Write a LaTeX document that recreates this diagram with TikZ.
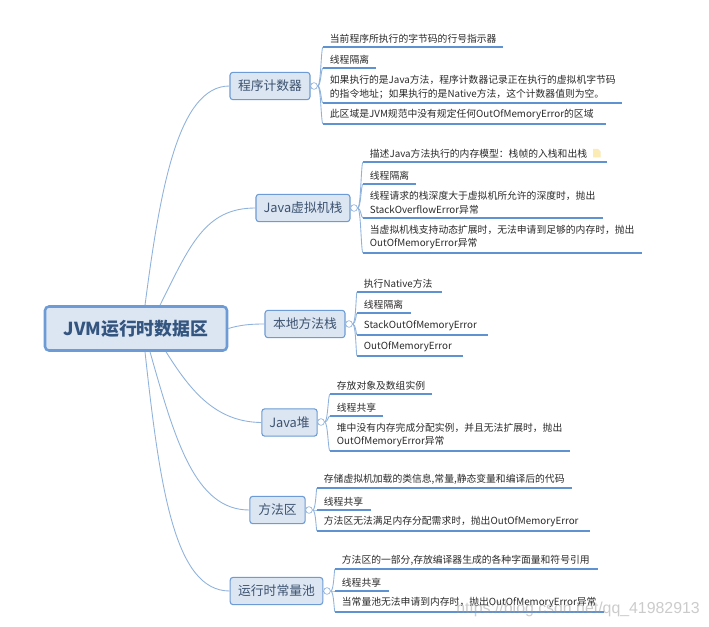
\documentclass[tikz,border=0pt]{standalone}
\usepackage{fontspec}
\setmainfont{Noto Sans CJK SC}
\newfontfamily\wmfont{Liberation Sans}
\definecolor{boxfill}{HTML}{DCE6F2}
\definecolor{boxline}{HTML}{6C9BD5}
\definecolor{underl}{HTML}{5F92D0}
\definecolor{curve}{HTML}{8FB2DC}
\definecolor{branchtxt}{HTML}{3C5270}
\definecolor{roottxt}{HTML}{34557F}
\definecolor{leaftxt}{HTML}{2A2A2A}
\definecolor{notefill}{HTML}{FBEBB5}
\tikzset{
  rootbox/.style={draw=boxline,fill=boxfill,line width=1.9pt,rounded corners=3pt,text=roottxt,font=\fontsize{13.4pt}{16pt}\selectfont\bfseries,inner sep=0pt,minimum width=136.5pt,minimum height=33pt},
  branchbox/.style={draw=boxline,fill=boxfill,line width=0.8pt,rounded corners=2.2pt,text=branchtxt,font=\fontsize{9.6pt}{12pt}\selectfont,inner sep=0pt,minimum height=20.5pt},
  bubble/.style={circle,draw=curve,fill=white,line width=0.5pt,minimum size=5pt,inner sep=0pt},
  leaf/.style={anchor=south west,align=left,text=leaftxt,font=\fontsize{7.35pt}{10pt}\selectfont,inner xsep=5pt,inner ysep=2.9pt},
  rootlink/.style={draw=curve,line width=0.65pt},
  leaflink/.style={draw=curve,line width=0.65pt},
  underline/.style={draw=underl,line width=0.95pt}
}
% name, bubble, x start, x end, y of underline, text
\newcommand{\leaf}[6]{%
  \node[leaf] (#1) at (#3,#5) {#6};
  \draw[leaflink] (#2.east) .. controls ([xshift=2.5pt]#2.east) and ([xshift=2.5pt]#2.east |- #1.south west) .. (#1.south west);
  \draw[underline] (#1.south west) -- (#4,#5);
}
\begin{document}
\begin{tikzpicture}[x=0.75pt,y=-0.75pt]
\useasboundingbox[fill=white] (0,0) rectangle (709,627);
% main boxes
\node[rootbox] (root) at (136,328.5) {JVM运行时数据区};
\node[branchbox,minimum width=60pt] (b1) at (270,86) {程序计数器};
\node[branchbox,minimum width=70.5pt] (b2) at (303,208) {Java虚拟机栈};
\node[branchbox,minimum width=60pt] (b3) at (305,324) {本地方法栈};
\node[branchbox,minimum width=41.5pt] (b4) at (289.5,422.5) {Java堆};
\node[branchbox,minimum width=41.5pt] (b5) at (277.5,510) {方法区};
\node[branchbox,minimum width=69.5pt] (b6) at (276.5,591) {运行时常量池};
% root connectors
\draw[rootlink] ([xshift=6.75pt]root.north) .. controls (160,190) and (178,86) .. (b1.west);
\draw[rootlink] ([xshift=18pt]root.north) .. controls (190,245) and (205,208) .. (b2.west);
\draw[rootlink] (root.east) .. controls (240,325) and (250,324) .. (b3.west);
\draw[rootlink] ([xshift=22.5pt]root.south) .. controls (190,390) and (215,422) .. (b4.west);
\draw[rootlink] ([xshift=10.5pt]root.south) .. controls (175,440) and (195,510) .. (b5.west);
\draw[rootlink] ([xshift=6.75pt]root.south) .. controls (160,490) and (175,591) .. (b6.west);
% bubbles
\node[bubble] (d1) at (314,86) {};
\node[bubble] (d2) at (354,208) {};
\node[bubble] (d3) at (349,324) {};
\node[bubble] (d4) at (321,422) {};
\node[bubble] (d5) at (309,510) {};
\node[bubble] (d6) at (327,591) {};
\foreach \i in {1,...,6}{\draw[leaflink] (b\i.east) -- (d\i.west);}
% leaves
\leaf{a1}{d1}{323}{503}{47}{当前程序所执行的字节码的行号指示器}
\leaf{a2}{d1}{323}{376}{68}{线程隔离}
\leaf{a3}{d1}{323}{622}{103}{如果执行的是Java方法，程序计数器记录正在执行的虚拟机字节码\\的指令地址；如果执行的是Native方法，这个计数器值则为空。}
\leaf{a4}{d1}{323}{606}{124}{此区域是JVM规范中没有规定任何OutOfMemoryError的区域}
\leaf{c1}{d2}{363}{607}{162}{描述Java方法执行的内存模型：栈帧的入栈和出栈}
\leaf{c2}{d2}{363}{416}{184}{线程隔离}
\leaf{c3}{d2}{363}{603}{218}{线程请求的栈深度大于虚拟机所允许的深度时，抛出\\StackOverflowError异常}
\leaf{c4}{d2}{363}{642}{253}{当虚拟机栈支持动态扩展时，无法申请到足够的内存时，抛出\\OutOfMemoryError异常}
\leaf{e1}{d3}{357}{442}{292}{执行Native方法}
\leaf{e2}{d3}{357}{411}{313}{线程隔离}
\leaf{e3}{d3}{357}{488}{335}{StackOutOfMemoryError}
\leaf{e4}{d3}{357}{463}{356}{OutOfMemoryError}
\leaf{f1}{d4}{330}{432}{394}{存放对象及数组实例}
\leaf{f2}{d4}{330}{383}{416}{线程共享}
\leaf{f3}{d4}{330}{570}{451}{堆中没有内存完成分配实例，并且无法扩展时，抛出\\OutOfMemoryError异常}
\leaf{g1}{d5}{317}{572}{488}{存储虚拟机加载的类信息,常量,静态变量和编译后的代码}
\leaf{g2}{d5}{317}{371}{510}{线程共享}
\leaf{g3}{d5}{317}{590}{531}{方法区无法满足内存分配需求时，抛出OutOfMemoryError}
\leaf{h1}{d6}{335}{598}{569}{方法区的一部分,存放编译器生成的各种字面量和符号引用}
\leaf{h2}{d6}{335}{389}{591}{线程共享}
\leaf{h3}{d6}{335}{604}{612}{当常量池无法申请到内存时，抛出OutOfMemoryError异常}
% note icon
\fill[notefill] (593,149) -- (598,149) -- (600.5,151.5) -- (600.5,157.5) -- (593,157.5) -- cycle;
% watermark
\node[anchor=west,inner sep=0pt,text=black!40,opacity=0.5,font=\wmfont\fontsize{11.9pt}{14pt}\selectfont] (wm) at (456,609) {https://blog.csdn.net/qq\_41982913};
\end{tikzpicture}
\end{document}
